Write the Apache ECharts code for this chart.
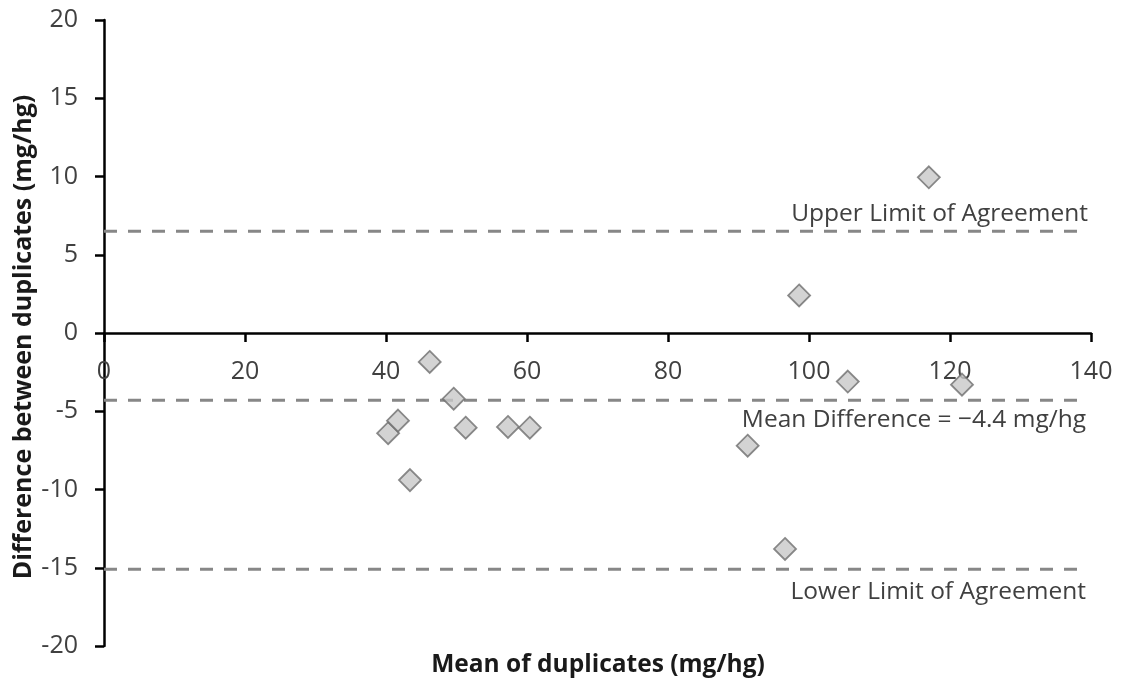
<!DOCTYPE html>
<html>
<head>
<meta charset="utf-8">
<script src="https://cdn.jsdelivr.net/npm/echarts@6/dist/echarts.min.js"></script>
<style>html,body{margin:0;padding:0;background:#fff}#c{width:1121px;height:689px}</style>
</head>
<body>
<div id="c"></div>
<script>
var meanVals = [40.3, 41.7, 43.4, 46.2, 49.6, 51.3, 57.3, 60.4, 91.3, 96.6, 98.6, 105.5, 117.0, 121.7];
var diffVals = [-6.4, -5.6, -9.4, -1.85, -4.2, -6.05, -6.0, -6.05, -7.2, -13.8, 2.4, -3.1, 9.95, -3.3];
var upperLimit = 6.5;
var meanDiff = -4.3;
var lowerLimit = -15.1;
var lineEndX = 138.5;
var xTicks = {min: 0, max: 140, interval: 20};
var yTicks = {min: -20, max: 20, interval: 5};
var labels = {
  upper: 'Upper Limit of Agreement',
  mean: 'Mean Difference = \u22124.4 mg/hg',
  lower: 'Lower Limit of Agreement',
  xTitle: 'Mean of duplicates (mg/hg)',
  yTitle: 'Difference between duplicates (mg/hg)'
};

var FONT = 'Open Sans';
var chart = echarts.init(document.getElementById('c'), null, {renderer: 'canvas'});
var pts = meanVals.map(function (v, i) { return [v, diffVals[i]]; });

function limitLine(y) {
  return {
    type: 'line',
    data: [[0, y], [lineEndX, y]],
    symbol: 'none',
    silent: true,
    z: 1,
    lineStyle: {color: '#878787', width: 3, type: [13, 11]}
  };
}

var option = {
  backgroundColor: '#fff',
  animation: false,
  grid: [
    {left: 104, right: 30, top: 20, bottom: 43},
    {left: 104, right: 30, top: 20, height: 313}
  ],
  xAxis: [
    {
      gridIndex: 0, type: 'value', min: xTicks.min, max: xTicks.max, interval: xTicks.interval,
      axisLine: {show: false}, axisTick: {show: false}, axisLabel: {show: false}, splitLine: {show: false}
    },
    {
      gridIndex: 1, type: 'value', position: 'bottom', min: xTicks.min, max: xTicks.max, interval: xTicks.interval,
      axisLine: {show: true, onZero: false, lineStyle: {color: '#000', width: 2.5}},
      axisTick: {show: true, length: 9, lineStyle: {color: '#000', width: 2.5}},
      axisLabel: {margin: 26, fontFamily: FONT, fontSize: 25, color: '#404040'},
      splitLine: {show: false}
    }
  ],
  yAxis: [
    {
      gridIndex: 0, type: 'value', min: yTicks.min, max: yTicks.max, interval: yTicks.interval,
      axisLine: {show: true, onZero: false, lineStyle: {color: '#000', width: 2.5}},
      axisTick: {show: true, length: 9, lineStyle: {color: '#000', width: 2.5}},
      axisLabel: {margin: 26, fontFamily: FONT, fontSize: 25, color: '#404040'},
      splitLine: {show: false}
    },
    {
      gridIndex: 1, type: 'value', min: 0, max: 20, show: false
    }
  ],
  series: [
    limitLine(upperLimit),
    limitLine(meanDiff),
    limitLine(lowerLimit),
    {
      type: 'scatter',
      data: pts,
      symbol: 'diamond',
      symbolSize: 22,
      z: 5,
      itemStyle: {color: '#c8c8c8', borderColor: '#6e6e6e', borderWidth: 1.8}
    }
  ],
  graphic: [
    {type: 'text', x: 598, y: 665, style: {text: labels.xTitle, font: 'bold 24.5px ' + FONT, fill: '#1a1a1a', textAlign: 'center', textVerticalAlign: 'middle'}},
    {type: 'text', x: 24, y: 337, rotation: Math.PI / 2, style: {text: labels.yTitle, font: 'bold 25px ' + FONT, fill: '#1a1a1a', textAlign: 'center', textVerticalAlign: 'middle'}},
    {type: 'text', x: 1088, y: 214, style: {text: labels.upper, font: '24.5px ' + FONT, fill: '#404040', textAlign: 'right', textVerticalAlign: 'middle'}},
    {type: 'text', x: 1086, y: 420, style: {text: labels.mean, font: '24.5px ' + FONT, fill: '#404040', textAlign: 'right', textVerticalAlign: 'middle'}},
    {type: 'text', x: 1086, y: 592, style: {text: labels.lower, font: '24.5px ' + FONT, fill: '#404040', textAlign: 'right', textVerticalAlign: 'middle'}}
  ]
};
chart.setOption(option);
</script>
</body>
</html>
